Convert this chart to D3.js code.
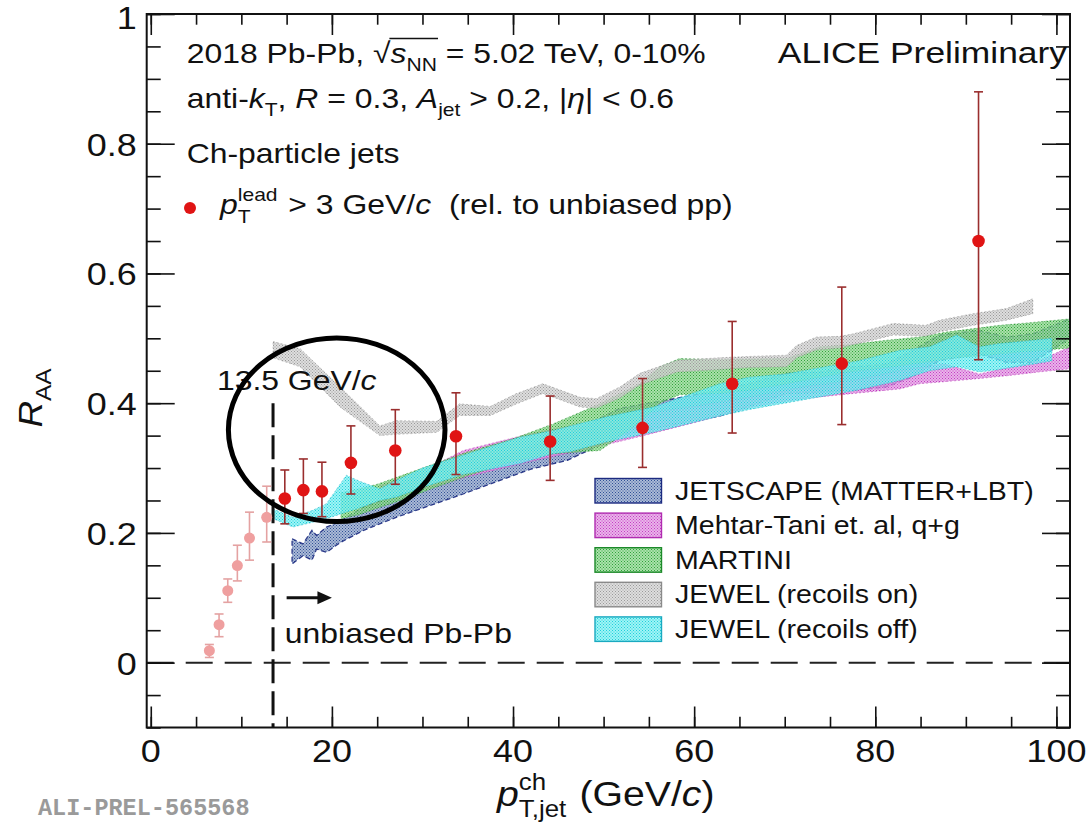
<!DOCTYPE html>
<html>
<head>
<meta charset="utf-8">
<script src="https://cdn.jsdelivr.net/npm/d3@7"></script>
<style>
  body { margin: 0; background: #fff; }
  svg { display: block; }
  text { font-family: "Liberation Sans", Arial, Helvetica, sans-serif; fill: #111; white-space: pre; }
</style>
</head>
<body>
<svg id="chart" width="1087" height="836"></svg>
<script>
// ---- measured jet R_AA, pT,lead > 3 GeV/c (rel. to unbiased pp) ----
const dataPt   = [14.8, 16.85, 18.9, 22.1, 27.0, 33.7, 44.1, 54.3, 64.2, 76.3, 91.4];
const dataRaa  = [0.253, 0.266, 0.264, 0.308, 0.327, 0.349, 0.341, 0.362, 0.430, 0.461, 0.650];
const dataHi   = [0.297, 0.314, 0.309, 0.365, 0.390, 0.416, 0.411, 0.438, 0.526, 0.579, 0.880];
const dataLo   = [0.214, 0.230, 0.225, 0.260, 0.275, 0.290, 0.281, 0.301, 0.354, 0.367, 0.467];

// biased region below 13.5 GeV/c (drawn faded)
const biasPt   = [6.47, 7.54, 8.5, 9.56, 10.9, 12.8];
const biasRaa  = [0.0185, 0.0586, 0.111, 0.1497, 0.192, 0.224];
const biasHi   = [0.028, 0.075, 0.129, 0.181, 0.232, 0.272];
const biasLo   = [0.008, 0.040, 0.093, 0.126, 0.158, 0.186];

// ---- model bands: pT, lower and upper edge ----
const jetscapeX  = [15.6, 16.8, 17.8, 18.3, 19.4, 20.9, 23.5, 27.1, 34.5, 41.9, 46, 51.8, 57, 62.8, 66, 70.2, 74, 77.6, 81.2, 84, 87.1, 91.5, 94.5, 97.4, 101.5];
const jetscapeHi = [0.191, 0.183, 0.204, 0.196, 0.209, 0.218, 0.240, 0.258, 0.291, 0.333, 0.352, 0.392, 0.405, 0.420, 0.430, 0.446, 0.448, 0.456, 0.460, 0.480, 0.505, 0.512, 0.502, 0.507, 0.530];
const jetscapeLo = [0.152, 0.165, 0.158, 0.175, 0.170, 0.185, 0.204, 0.224, 0.260, 0.298, 0.312, 0.350, 0.365, 0.380, 0.395, 0.415, 0.417, 0.420, 0.425, 0.440, 0.466, 0.476, 0.463, 0.463, 0.500];

const mehtarX  = [25.3, 30.8, 34.5, 41.9, 50, 55, 60, 66.5, 72, 77.6, 82.7, 84.9, 87.5, 91.5, 95, 98, 101.5];
const mehtarHi = [0.273, 0.301, 0.327, 0.353, 0.375, 0.385, 0.395, 0.410, 0.425, 0.435, 0.450, 0.455, 0.461, 0.445, 0.456, 0.465, 0.487];
const mehtarLo = [0.255, 0.270, 0.285, 0.310, 0.335, 0.352, 0.370, 0.394, 0.407, 0.415, 0.422, 0.430, 0.433, 0.438, 0.443, 0.448, 0.453];

const martiniX  = [21, 23, 25, 28, 31, 35, 40, 44.4, 49.6, 54, 56.2, 58.4, 62.8, 66, 70.2, 73.9, 77, 81.2, 84.9, 88, 93.7, 97, 101.5];
const martiniHi = [0.262, 0.268, 0.275, 0.290, 0.305, 0.325, 0.345, 0.368, 0.399, 0.430, 0.456, 0.469, 0.467, 0.468, 0.469, 0.487, 0.490, 0.497, 0.502, 0.510, 0.520, 0.524, 0.530];
const martiniLo = [0.222, 0.228, 0.238, 0.252, 0.268, 0.288, 0.310, 0.322, 0.327, 0.370, 0.400, 0.413, 0.415, 0.420, 0.430, 0.440, 0.448, 0.455, 0.462, 0.468, 0.476, 0.480, 0.485];

const jewelOnX  = [13.5, 16.5, 20.9, 25.3, 27.1, 31.6, 34.1, 37.5, 40.4, 43.3, 47.4, 49.2, 51.8, 54.0, 58.1, 62.8, 66, 70.2, 71.3, 73.5, 76.1, 77.6, 82, 85.6, 87.1, 90.8, 94.5, 97.4];
const jewelOnHi = [0.495, 0.484, 0.425, 0.365, 0.373, 0.372, 0.399, 0.395, 0.415, 0.430, 0.409, 0.407, 0.425, 0.446, 0.466, 0.470, 0.472, 0.474, 0.489, 0.502, 0.503, 0.507, 0.523, 0.520, 0.528, 0.538, 0.546, 0.561];
const jewelOnLo = [0.470, 0.456, 0.394, 0.350, 0.352, 0.355, 0.381, 0.381, 0.399, 0.415, 0.394, 0.392, 0.408, 0.428, 0.448, 0.452, 0.455, 0.456, 0.470, 0.482, 0.485, 0.490, 0.505, 0.503, 0.510, 0.520, 0.528, 0.538];

const jewelOffX  = [13.5, 15.7, 17.9, 19.4, 21.6, 23, 25.3, 27.1, 30, 34.5, 40.8, 44.4, 46.3, 50.3, 55.5, 62.8, 66, 70, 74, 78, 82.7, 86, 89, 91.5, 93.7, 97.4, 99.5];
const jewelOffHi = [0.237, 0.224, 0.235, 0.245, 0.289, 0.280, 0.268, 0.281, 0.300, 0.320, 0.348, 0.358, 0.365, 0.379, 0.394, 0.430, 0.440, 0.445, 0.455, 0.465, 0.4815, 0.487, 0.505, 0.487, 0.492, 0.497, 0.500];
const jewelOffLo = [0.222, 0.209, 0.2165, 0.222, 0.232, 0.238, 0.250, 0.255, 0.270, 0.290, 0.307, 0.322, 0.325, 0.340, 0.355, 0.380, 0.390, 0.400, 0.410, 0.420, 0.435, 0.450, 0.456, 0.448, 0.452, 0.460, 0.465];

const legendLabels = ["JETSCAPE (MATTER+LBT)", "Mehtar-Tani et. al, q+g", "MARTINI", "JEWEL (recoils on)", "JEWEL (recoils off)"];
const xTickValues = [0, 20, 40, 60, 80, 100];
const yTickValues = [0, 0.2, 0.4, 0.6, 0.8, 1];
const ptCut = 13.5;

// ---------------------------------------------------------------
const SX = 1.12;                 // horizontal stretch of all lettering
const svg = d3.select("#chart");
const frame = { l: 146.7, r: 1070, t: 14, b: 727.5 };
const x = d3.scaleLinear().domain([-0.45, 101.5]).range([frame.l, frame.r]);
const y = d3.scaleLinear().domain([-0.1, 1]).range([frame.b, frame.t]);

// band styles: dot pattern colour, tint, outline
const bandStyles = [
  { id: "pJet",  dot: "#2f4f96", tint: "#8ea2c8", edge: "#1c2a80", dash: "5,3" },
  { id: "pMeh",  dot: "#c43cc4", tint: "#e29be2", edge: "#b02cb0", dash: "2,2" },
  { id: "pMar",  dot: "#2fa23a", tint: "#8fd88f", edge: "#1d8a2a", dash: "2,2" },
  { id: "pJon",  dot: "#9a9a9a", tint: "#d2d2d2", edge: "#8a8a8a", dash: "2,2" },
  { id: "pJoff", dot: "#1fd0da", tint: "#7ef0f2", edge: "#1aa9c0", dash: "2,2" }
];

const defs = svg.append("defs");
bandStyles.forEach(s => {
  const p = defs.append("pattern").attr("id", s.id).attr("patternUnits", "userSpaceOnUse")
    .attr("width", 3).attr("height", 3);
  p.append("rect").attr("width", 3).attr("height", 3).attr("fill", s.tint).attr("opacity", 0.75);
  p.append("rect").attr("x", 0).attr("y", 0).attr("width", 1).attr("height", 1).attr("fill", s.dot);
  p.append("rect").attr("x", 1.5).attr("y", 1.5).attr("width", 1).attr("height", 1).attr("fill", s.dot);
});
defs.append("clipPath").attr("id", "frameClip").append("rect")
  .attr("x", frame.l).attr("y", frame.t).attr("width", frame.r - frame.l).attr("height", frame.b - frame.t);

// ---------- rich text helper (italics, sub/superscripts) ----------
function rich(parent, x0, y0, runs, size, opt = {}) {
  const sx = opt.sx ?? SX, anchor = opt.anchor || "start", rot = opt.rotate || 0;
  const g = parent.append("g").attr("transform", `translate(${x0},${y0}) rotate(${rot}) scale(${sx},1)`);
  const inner = g.append("g");
  let cx = 0;
  const marks = {};
  const put = (txt, xx, dy, fs, it) => {
    const t = inner.append("text").attr("x", xx).attr("y", dy).attr("font-size", fs)
      .attr("font-style", it ? "italic" : "normal").text(txt);
    if (opt.fill) t.style("fill", opt.fill);
    return t.node().getComputedTextLength();
  };
  for (const r of runs) {
    if (r.stack) {
      const w1 = put(r.stack[0], cx, -0.45 * size, 0.66 * size, false);
      const w2 = put(r.stack[1], cx, 0.30 * size, 0.66 * size, false);
      cx += Math.max(w1, w2) + 0.06 * size;
      continue;
    }
    const small = r.sub || r.sup;
    const fs = small ? 0.66 * size : size;
    const dy = r.sub ? 0.28 * size : r.sup ? -0.45 * size : 0;
    const s = cx;
    cx += put(r.t, cx, dy, fs, r.it);
    if (r.mark) marks[r.mark] = [s, cx];
  }
  const shift = anchor === "end" ? -cx : anchor === "middle" ? -cx / 2 : 0;
  inner.attr("transform", `translate(${shift},0)`);
  return { g, inner, marks, width: cx };
}

// ---------- model bands ----------
const area = d3.area().x(d => x(d.x)).y0(d => y(d.lo)).y1(d => y(d.hi));
const bands = [
  [jetscapeX, jetscapeLo, jetscapeHi],
  [mehtarX, mehtarLo, mehtarHi],
  [martiniX, martiniLo, martiniHi],
  [jewelOnX, jewelOnLo, jewelOnHi],
  [jewelOffX, jewelOffLo, jewelOffHi]
];
const gBands = svg.append("g").attr("clip-path", "url(#frameClip)");
bands.forEach((b, i) => {
  const pts = b[0].map((v, k) => ({ x: v, lo: b[1][k], hi: b[2][k] }));
  const s = bandStyles[i];
  gBands.append("path").datum(pts).attr("d", area)
    .attr("fill", `url(#${s.id})`)
    .attr("stroke", s.edge).attr("stroke-width", i === 0 ? 1.3 : 0.8)
    .attr("stroke-dasharray", s.dash).attr("stroke-opacity", i === 0 ? 0.9 : 0.6);
});

// ---------- reference lines ----------
svg.append("line")
  .attr("x1", frame.l).attr("x2", frame.r).attr("y1", y(0)).attr("y2", y(0))
  .attr("stroke", "#222").attr("stroke-width", 2).attr("stroke-dasharray", "27,12");
svg.append("line")
  .attr("x1", x(ptCut)).attr("x2", x(ptCut)).attr("y1", y(0.40)).attr("y2", frame.b)
  .attr("stroke", "#111").attr("stroke-width", 3).attr("stroke-dasharray", "24,8");

// ---------- frame and axes ----------
svg.append("rect").attr("x", frame.l).attr("y", frame.t)
  .attr("width", frame.r - frame.l).attr("height", frame.b - frame.t)
  .attr("fill", "none").attr("stroke", "#111").attr("stroke-width", 2);

function tickAxis(axis, tx, ty) {
  const g = svg.append("g").attr("transform", `translate(${tx},${ty})`).call(axis);
  g.select(".domain").remove();
  g.selectAll(".tick line").attr("stroke", "#111").attr("stroke-width", 1.6);
  return g;
}
const xMinor = d3.range(0, 101, 5);
const yMinor = d3.range(-0.1, 1.001, 0.05).map(v => +v.toFixed(2));
// inward ticks: major and minor on all four sides
tickAxis(d3.axisBottom(x).tickValues(xMinor).tickSize(-10.7).tickFormat(""), 0, frame.b);
tickAxis(d3.axisBottom(x).tickValues(xTickValues).tickSize(-21).tickFormat(""), 0, frame.b);
tickAxis(d3.axisTop(x).tickValues(xMinor).tickSize(-10.7).tickFormat(""), 0, frame.t);
tickAxis(d3.axisTop(x).tickValues(xTickValues).tickSize(-21).tickFormat(""), 0, frame.t);
tickAxis(d3.axisLeft(y).tickValues(yMinor).tickSize(-14).tickFormat(""), frame.l, 0);
tickAxis(d3.axisLeft(y).tickValues(yTickValues).tickSize(-28).tickFormat(""), frame.l, 0);
tickAxis(d3.axisRight(y).tickValues(yMinor).tickSize(-14).tickFormat(""), frame.r, 0);
tickAxis(d3.axisRight(y).tickValues(yTickValues).tickSize(-28).tickFormat(""), frame.r, 0);

// tick labels
const tickFs = 31;
xTickValues.forEach(v => {
  svg.append("text").attr("transform", `translate(${x(v)},${frame.b + 34}) scale(1.16,1)`)
    .attr("text-anchor", "middle").attr("font-size", tickFs).text(d3.format("d")(v));
});
yTickValues.forEach(v => {
  const lab = v === 0 ? "0" : v === 1 ? "1" : d3.format(".1f")(v);
  const by = Math.max(y(v) + 12, 29);   // keep the top label inside the page
  svg.append("text").attr("transform", `translate(${frame.l - 10},${by}) scale(1.16,1)`)
    .attr("text-anchor", "end").attr("font-size", tickFs).text(lab);
});

// axis titles
rich(svg, 497, 806, [{ t: "p", it: true }, { stack: ["ch", "T,jet"] }, { t: " (GeV/" }, { t: "c", it: true }, { t: ")" }], 35, { anchor: "start" });
rich(svg, 42, 398, [{ t: "R", it: true }, { t: "AA", sub: true }], 33, { anchor: "middle", rotate: -90 });

// ---------- data points ----------
const gPts = svg.append("g");
function errBars(xs, vs, his, los, col, r, fillCol) {
  xs.forEach((xv, i) => {
    const cxp = x(xv);
    gPts.append("line").attr("x1", cxp).attr("x2", cxp).attr("y1", y(his[i])).attr("y2", y(los[i]))
      .attr("stroke", col).attr("stroke-width", 1.6);
    [his[i], los[i]].forEach(e => gPts.append("line")
      .attr("x1", cxp - 4.5).attr("x2", cxp + 4.5).attr("y1", y(e)).attr("y2", y(e))
      .attr("stroke", col).attr("stroke-width", 1.6));
  });
  xs.forEach((xv, i) => {
    gPts.append("circle").attr("cx", x(xv)).attr("cy", y(vs[i])).attr("r", r).attr("fill", fillCol);
  });
}
errBars(biasPt, biasRaa, biasHi, biasLo, "#e4a2a2", 5.5, "#ef9f9f");
errBars(dataPt, dataRaa, dataHi, dataLo, "#9a2e2e", 6.3, "#e01414");

// ---------- annotations ----------
rich(svg, x(7.3), y(0.42), [{ t: "13.5 GeV/" }, { t: "c", it: true }], 28.5);
rich(svg, x(14.8), y(0.03), [{ t: "unbiased Pb-Pb" }], 28.5);
const ay = y(0.1);
svg.append("line").attr("x1", x(15)).attr("x2", x(19)).attr("y1", ay).attr("y2", ay)
  .attr("stroke", "#111").attr("stroke-width", 2.8);
svg.append("path")
  .attr("d", `M${x(20)},${ay} L${x(18.4)},${ay - 6.5} L${x(18.4)},${ay + 6.5} Z`).attr("fill", "#111");

// header lines
const hdrFs = 28.5;
const l1 = rich(svg, 186.7, 63, [
  { t: "2018 Pb-Pb, " }, { t: "√", mark: "rad" }, { t: "s", it: true }, { t: "NN", sub: true, mark: "nn" },
  { t: " = 5.02 TeV, 0-10%" }], hdrFs);
l1.inner.append("line").attr("x1", l1.marks.rad[1] - 1).attr("x2", l1.marks.nn[1] + 1)
  .attr("y1", -0.86 * hdrFs).attr("y2", -0.86 * hdrFs).attr("stroke", "#111").attr("stroke-width", 1.3);
rich(svg, 186.7, 108, [
  { t: "anti-" }, { t: "k", it: true }, { t: "T", sub: true }, { t: ", " }, { t: "R", it: true },
  { t: " = 0.3, " }, { t: "A", it: true }, { t: "jet", sub: true }, { t: " > 0.2, |" },
  { t: "η", it: true }, { t: "| < 0.6" }], hdrFs);
rich(svg, 186.7, 163, [{ t: "Ch-particle jets" }], hdrFs);
svg.append("circle").attr("cx", 190).attr("cy", 208).attr("r", 6).attr("fill", "#e01414");
rich(svg, 220, 214, [
  { t: "p", it: true }, { stack: ["lead", "T"] }, { t: " > 3 GeV/" }, { t: "c", it: true },
  { t: "  (rel. to unbiased pp)" }], hdrFs);
rich(svg, 1067, 63, [{ t: "ALICE Preliminary" }], 29.5, { anchor: "end", sx: 1.2 });

// legend
const legX = 595, legY0 = 478.5, legStep = 34.6;
legendLabels.forEach((lab, i) => {
  const s = bandStyles[i];
  const yy = legY0 + i * legStep;
  svg.append("rect").attr("x", legX).attr("y", yy).attr("width", 66.5).attr("height", 24.5)
    .attr("fill", `url(#${s.id})`).attr("stroke", s.edge).attr("stroke-width", 1.4);
  rich(svg, 675, yy + 21, [{ t: lab }], 25.5);
});

// highlight ellipse
svg.append("ellipse").attr("cx", 336.7).attr("cy", 429.8).attr("rx", 108.3).attr("ry", 91.8)
  .attr("fill", "none").attr("stroke", "#000").attr("stroke-width", 5);

// preliminary figure tag
svg.append("text").attr("transform", `translate(38,815) scale(1.0,1)`)
  .style("font-family", "'Liberation Mono', 'Courier New', monospace").style("font-weight", "bold")
  .style("fill", "#9a9a9a").attr("font-size", 23.5).text("ALI-PREL-565568");
</script>
</body>
</html>
